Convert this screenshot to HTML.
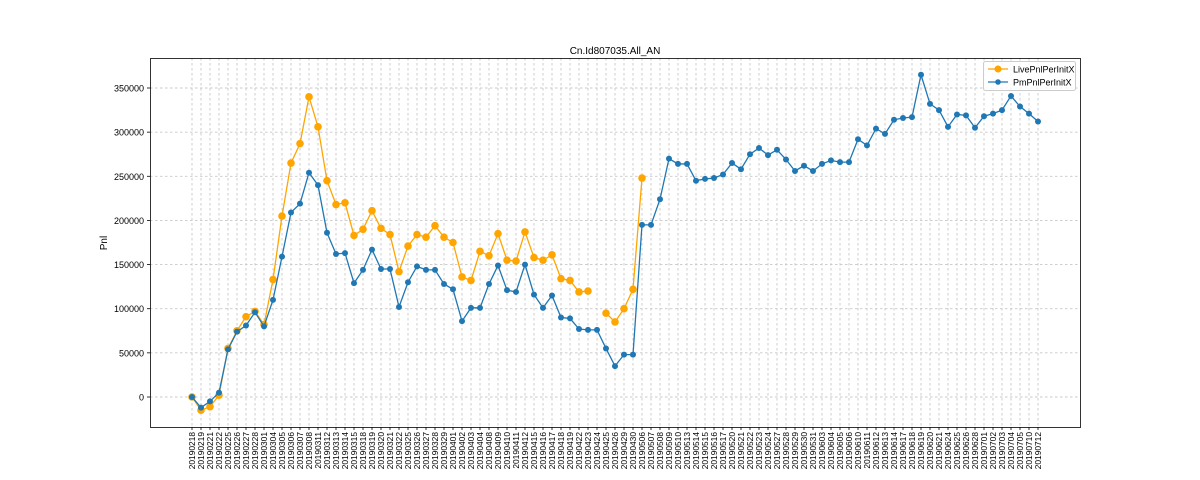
<!DOCTYPE html>
<html><head><meta charset="utf-8">
<style>
html,body{margin:0;padding:0;background:#fff;}
svg{display:block;font-family:"Liberation Sans","DejaVu Sans",sans-serif;}
</style></head>
<body>
<svg id="chart" width="1200" height="480" viewBox="0 0 1200 480">
<rect x="0" y="0" width="1200" height="480" fill="#fff"/>
<g id="grid"></g>
<g id="series"></g>
<rect x="150.5" y="58.5" width="930" height="369" fill="none" stroke="#000" stroke-width="0.8"/>
<g id="yaxis"></g>
<g id="xaxis"></g>
<text x="615" y="54" text-anchor="middle" font-size="10">Cn.Id807035.All_AN</text>
<text x="107" y="243" text-anchor="middle" font-size="10" transform="rotate(-90 107 243)">Pnl</text>
<g>
<rect x="983.5" y="61.5" width="92" height="29" rx="2" fill="#fff" fill-opacity="0.8" stroke="#ccc"/>
<g>
<line x1="988" y1="69" x2="1008" y2="69" stroke="#ffa500" stroke-width="1.2"/>
<circle cx="998" cy="69" r="3.5" fill="#ffa500"/>
<text x="1013" y="72.5" font-size="9">LivePnlPerInitX</text></g>
<g>
<line x1="988" y1="82" x2="1008" y2="82" stroke="#1f77b4" stroke-width="1.2"/>
<circle cx="998" cy="82" r="2.8" fill="#1f77b4"/>
<text x="1013" y="85.5" font-size="9">PmPnlPerInitX</text></g>
</g>
</svg>
<script>
const dates=["20190218","20190219","20190221","20190222","20190225","20190226","20190227","20190228","20190301","20190304","20190305","20190306","20190307","20190308","20190311","20190312","20190313","20190314","20190315","20190318","20190319","20190320","20190321","20190322","20190325","20190326","20190327","20190328","20190329","20190401","20190402","20190403","20190404","20190408","20190409","20190410","20190411","20190412","20190415","20190416","20190417","20190418","20190419","20190422","20190423","20190424","20190425","20190426","20190429","20190430","20190506","20190507","20190508","20190509","20190510","20190513","20190514","20190515","20190516","20190517","20190520","20190521","20190522","20190523","20190524","20190527","20190528","20190529","20190530","20190531","20190603","20190604","20190605","20190606","20190610","20190611","20190612","20190613","20190614","20190617","20190618","20190619","20190620","20190621","20190624","20190625","20190626","20190628","20190701","20190702","20190703","20190704","20190705","20190710","20190712"];
const pmValues=[0,-12000,-5000,5000,54000,74000,81000,96000,80000,110000,159000,209000,219000,254000,240000,186000,162000,163000,129000,144000,167000,145000,145000,102000,130000,148000,144000,144000,128000,122000,86000,101000,101000,128000,149000,121000,119000,150000,116000,101000,115000,90000,89000,77000,76000,76000,55000,35000,48000,48000,195000,195000,224000,270000,264000,264000,245000,247000,248000,252000,265000,258000,275000,282000,274000,280000,269000,256000,262000,256000,264000,268000,266000,266000,292000,285000,304000,298000,314000,316000,317000,365000,332000,325000,306000,320000,319000,305000,318000,321000,325000,341000,329000,321000,312000];
const liveValues=[0,-15000,-11000,2000,55000,75000,91000,97000,82000,133000,205000,265000,287000,340000,306000,245000,218000,220000,183000,190000,211000,191000,184000,142000,171000,184000,181000,194000,181000,175000,136000,132000,165000,160000,185000,155000,154000,187000,158000,155000,161000,134000,132000,119000,120000,null,95000,85000,100000,122000,248000];
const yTicks=[0,50000,100000,150000,200000,250000,300000,350000];

const NS="http://www.w3.org/2000/svg";
function xPos(i){return 192+i*(846/(dates.length-1));}
function yPos(v){return 397-v*(309/350000);}
function mk(tag,attrs,parent){const e=document.createElementNS(NS,tag);for(const k in attrs)e.setAttribute(k,attrs[k]);parent.appendChild(e);return e;}
const grid=document.getElementById('grid'),ser=document.getElementById('series'),ya=document.getElementById('yaxis'),xa=document.getElementById('xaxis');

yTicks.forEach(t=>{
  const y=yPos(t);
  const gl=mk('line',{x1:150,x2:1080,y1:y,y2:y,stroke:'#c8c8c8','stroke-width':0.9,'stroke-dasharray':'2.5,2.5'},grid);
  
  
  mk('line',{x1:147,x2:150,y1:y,y2:y,stroke:'#000','stroke-width':0.8},ya);
  const tx=mk('text',{x:144,y:y+3.5,'text-anchor':'end','font-size':9},ya);
  tx.textContent=String(t);
  
  
});
dates.forEach((d,i)=>{
  const x=xPos(i);
  const gl=mk('line',{x1:x,x2:x,y1:58,y2:427,stroke:'#c8c8c8','stroke-width':0.9,'stroke-dasharray':'2.5,2.5'},grid);
  
  
  mk('line',{x1:x,x2:x,y1:427,y2:430,stroke:'#000','stroke-width':0.8},xa);
  const tx=mk('text',{x:0,y:0,'text-anchor':'end','font-size':8.4,transform:`translate(${x+3},432) rotate(-90)`},xa);
  tx.textContent=d;
  
  
});
function drawSeries(vals,color,r,name){
  const g=mk('g',{},ser);
  
  
  let seg=[];
  const flush=()=>{if(seg.length>1){mk('polyline',{points:seg.join(' '),fill:'none',stroke:color,'stroke-width':1.3},g);}seg=[];};
  vals.forEach((v,i)=>{if(v===null){flush();return;}seg.push(xPos(i)+','+yPos(v));});
  flush();
  vals.forEach((v,i)=>{if(v===null)return;
    const c=mk('circle',{cx:xPos(i),cy:yPos(v),r:r,fill:color},g);
    
    
  });
}
drawSeries(liveValues,'#ffa500',3.8,'series-live-pnl');
drawSeries(pmValues,'#1f77b4',3,'series-pm-pnl');
</script>
</body></html>
